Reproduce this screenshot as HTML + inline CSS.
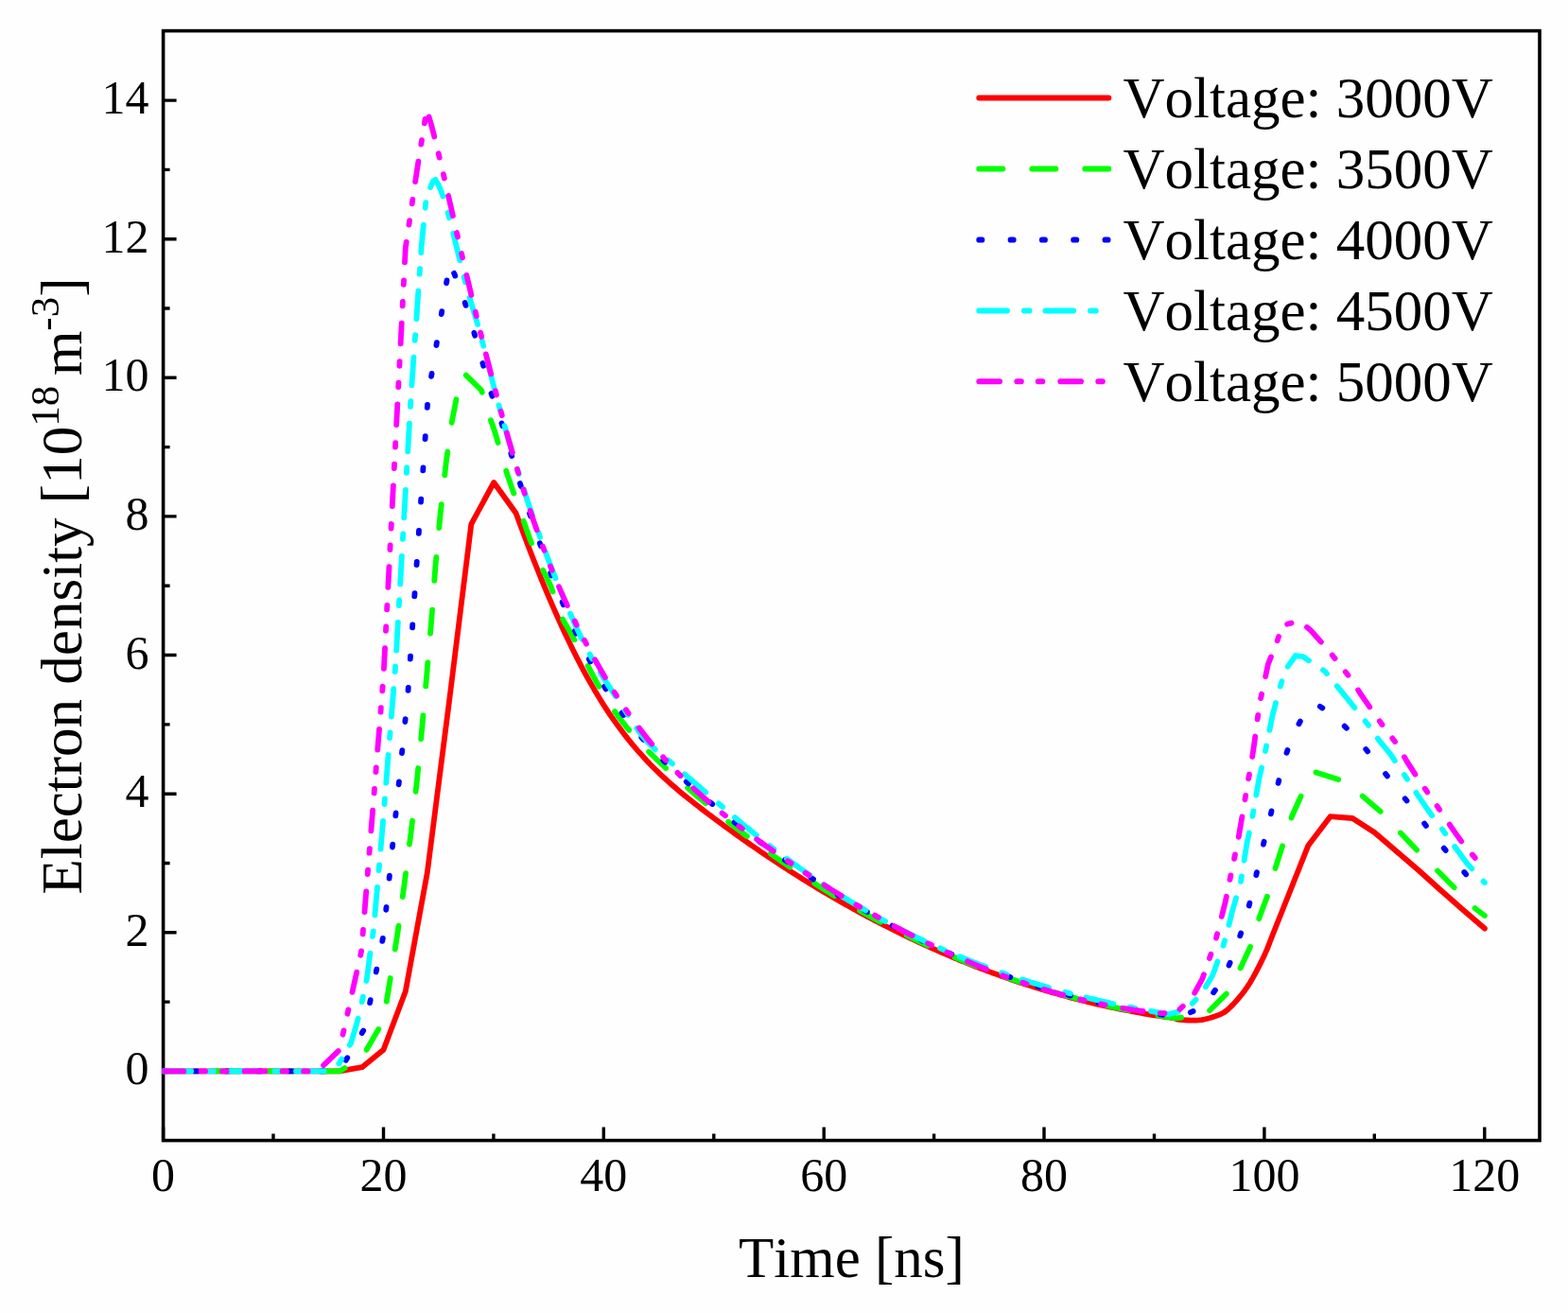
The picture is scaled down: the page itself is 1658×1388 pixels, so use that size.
<!DOCTYPE html>
<html><head><meta charset="utf-8"><title>Electron density vs time</title>
<style>html,body{margin:0;padding:0;background:#fefefe;}svg{display:block;}text{font-kerning:none;}</style>
</head><body>
<svg width="1658" height="1388" viewBox="0 0 1658 1388">
<rect x="0" y="0" width="1658" height="1388" fill="#fefefe"/>
<rect x="172.6" y="32.6" width="1455.4" height="1173.0" fill="none" stroke="#000" stroke-width="3.6"/>
<path d="M172.6,1205.6V1191.6M289.0,1205.6V1198.6M405.5,1205.6V1191.6M521.9,1205.6V1198.6M638.3,1205.6V1191.6M754.8,1205.6V1198.6M871.2,1205.6V1191.6M987.6,1205.6V1198.6M1104.0,1205.6V1191.6M1220.5,1205.6V1198.6M1336.9,1205.6V1191.6M1453.3,1205.6V1198.6M1569.8,1205.6V1191.6M172.6,1132.4H186.6M172.6,1059.1H179.6M172.6,985.8H186.6M172.6,912.5H179.6M172.6,839.2H186.6M172.6,765.9H179.6M172.6,692.5H186.6M172.6,619.2H179.6M172.6,545.9H186.6M172.6,472.6H179.6M172.6,399.3H186.6M172.6,326.0H179.6M172.6,252.7H186.6M172.6,179.4H179.6M172.6,106.1H186.6" stroke="#000" stroke-width="3.4" fill="none"/>
<defs><clipPath id="pc"><rect x="171.5" y="32.6" width="1456.5" height="1173.0"/></clipPath></defs>
<g clip-path="url(#pc)" fill="none" stroke-linejoin="round">
<polyline points="172.6,1132.4 358.9,1132.4 382.8,1128.2 405.5,1109.7 428.8,1048.0 451.8,922.5 475.3,739.0 498.3,554.1 522.2,510.0 545.6,542.5 548.6,550.7 551.6,558.8 554.6,566.8 557.6,574.7 560.6,582.5 563.6,590.2 566.6,597.8 569.6,605.2 572.6,612.6 575.6,619.9 578.6,627.1 581.6,634.1 584.6,641.1 587.6,647.9 590.6,654.6 593.6,661.2 596.6,667.7 599.6,674.1 602.6,680.3 605.6,686.5 608.6,692.5 611.6,698.4 614.6,704.1 617.6,709.8 620.6,715.3 623.6,720.7 626.6,725.9 629.6,731.1 632.6,736.0 635.6,740.9 638.6,745.7 641.6,750.3 644.6,754.8 647.6,759.2 650.6,763.4 653.6,767.6 656.6,771.6 659.6,775.6 662.6,779.4 665.6,783.2 668.6,786.8 671.6,790.4 674.6,793.8 677.6,797.2 680.6,800.5 683.6,803.8 686.6,806.9 689.6,810.0 692.6,813.0 695.6,815.9 698.6,818.8 701.6,821.6 704.6,824.4 707.6,827.1 710.6,829.7 713.6,832.3 716.6,834.9 719.6,837.4 722.6,839.9 725.6,842.3 728.6,844.7 731.6,847.1 734.6,849.5 737.6,851.8 740.6,854.1 743.6,856.4 746.6,858.7 749.6,861.0 752.6,863.2 755.6,865.5 758.6,867.7 761.6,869.9 764.6,872.1 767.6,874.3 770.6,876.5 773.6,878.7 776.6,880.9 779.6,883.0 782.6,885.1 785.6,887.3 788.6,889.4 791.6,891.5 794.6,893.6 797.6,895.7 800.6,897.7 803.6,899.8 806.6,901.8 809.6,903.9 812.6,905.9 815.6,907.9 818.6,909.9 821.6,911.9 824.6,913.8 827.6,915.8 830.6,917.7 833.6,919.7 836.6,921.6 839.6,923.5 842.6,925.4 845.6,927.3 848.6,929.2 851.6,931.0 854.6,932.9 857.6,934.7 860.6,936.6 863.6,938.4 866.6,940.2 869.6,942.0 872.6,943.8 875.6,945.5 878.6,947.3 881.6,949.0 884.6,950.8 887.6,952.5 890.6,954.2 893.6,955.9 896.6,957.6 899.6,959.3 902.6,960.9 905.6,962.6 908.6,964.2 911.6,965.9 914.6,967.5 917.6,969.1 920.6,970.7 923.6,972.3 926.6,973.8 929.6,975.4 932.6,976.9 935.6,978.5 938.6,980.0 941.6,981.5 944.6,983.0 947.6,984.5 950.6,986.0 953.6,987.5 956.6,988.9 959.6,990.4 962.6,991.8 965.6,993.2 968.6,994.6 971.6,996.0 974.6,997.4 977.6,998.8 980.6,1000.2 983.6,1001.5 986.6,1002.9 989.6,1004.2 992.6,1005.5 995.6,1006.8 998.6,1008.1 1001.6,1009.4 1004.6,1010.7 1007.6,1012.0 1010.6,1013.2 1013.6,1014.5 1016.6,1015.7 1019.6,1016.9 1022.6,1018.1 1025.6,1019.3 1028.6,1020.5 1031.6,1021.7 1034.6,1022.8 1037.6,1024.0 1040.6,1025.1 1043.6,1026.2 1046.6,1027.4 1049.6,1028.5 1052.6,1029.6 1055.6,1030.6 1058.6,1031.7 1061.6,1032.8 1064.6,1033.8 1067.6,1034.9 1070.6,1035.9 1073.6,1036.9 1076.6,1037.9 1079.6,1038.9 1082.6,1039.9 1085.6,1040.9 1088.6,1041.8 1091.6,1042.8 1094.6,1043.7 1097.6,1044.6 1100.6,1045.6 1103.6,1046.5 1106.6,1047.4 1109.6,1048.2 1112.6,1049.1 1115.6,1050.0 1118.6,1050.8 1121.6,1051.7 1124.6,1052.5 1127.6,1053.3 1130.6,1054.1 1133.6,1054.9 1136.6,1055.7 1139.6,1056.5 1142.6,1057.2 1145.6,1058.0 1148.6,1058.7 1151.6,1059.5 1154.6,1060.2 1157.6,1060.9 1160.6,1061.6 1163.6,1062.3 1166.6,1062.9 1169.6,1063.6 1172.6,1064.3 1175.6,1064.9 1178.6,1065.5 1181.6,1066.2 1184.6,1066.8 1187.6,1067.4 1190.6,1068.0 1193.6,1068.5 1196.6,1069.1 1199.6,1069.7 1202.6,1070.2 1205.6,1070.7 1208.6,1071.3 1211.6,1071.8 1214.6,1072.3 1217.6,1072.8 1220.6,1073.3 1223.6,1073.7 1226.6,1074.2 1229.6,1074.6 1232.6,1075.1 1235.6,1075.5 1238.6,1075.9 1241.6,1076.3 1243.8,1076.6 1243.8,1077.3 1246.8,1077.8 1249.8,1078.1 1252.8,1078.4 1255.8,1078.5 1258.8,1078.6 1261.8,1078.6 1264.8,1078.6 1267.8,1078.4 1270.8,1078.1 1273.8,1077.5 1276.8,1076.8 1279.8,1076.0 1282.8,1075.0 1285.8,1074.0 1288.8,1072.9 1291.8,1071.6 1294.8,1069.9 1297.8,1067.6 1300.8,1064.9 1303.8,1061.9 1306.8,1058.6 1309.8,1055.1 1312.8,1051.5 1315.8,1047.7 1318.8,1043.4 1321.8,1038.7 1324.8,1033.6 1327.8,1028.2 1330.8,1022.4 1333.8,1016.4 1336.8,1010.2 1339.8,1003.4 1342.8,995.8 1345.0,990.0 1383.2,894.1 1406.6,863.2 1430.1,865.0 1453.4,880.0 1476.7,900.0 1500.0,920.0 1523.3,941.0 1546.6,961.5 1569.9,981.5" stroke="#ff0000" stroke-width="5.8" stroke-linecap="round"/>
<polyline points="172.6,1132.4 358.9,1132.4 382.2,1119.0 405.5,1079.0 420.0,989.2 427.5,935.2 434.6,880.0 441.1,823.3 446.5,767.0 451.5,710.5 456.2,655.8 460.3,599.9 465.5,544.6 471.8,488.2 477.7,446.5 482.9,420.0 491.0,395.0 509.0,412.5 510.0,415.3 513.0,428.4 516.0,437.2 519.0,444.4 522.0,452.6 525.0,462.3 528.0,472.9 531.0,483.7 534.0,494.0 537.0,503.4 540.0,512.1 543.0,520.6 546.0,529.0 549.0,537.5 552.0,546.1 555.0,554.7 558.0,563.2 561.0,571.5 564.0,579.5 567.0,587.1 570.0,594.2 573.0,600.6 576.0,606.5 579.0,612.4 582.0,618.8 585.0,626.5 588.0,635.5 591.0,644.7 594.0,652.5 597.0,658.3 600.0,663.3 603.0,668.3 606.0,673.7 609.0,679.2 612.0,685.0 615.0,690.8 618.0,696.6 621.0,702.5 624.0,708.3 627.0,714.1 630.0,719.6 633.0,725.0 636.0,730.2 639.0,735.2 642.0,740.0 645.0,744.6 648.0,749.1 651.0,753.4 654.0,757.5 657.0,761.6 660.0,765.4 663.0,769.2 666.0,772.8 669.0,776.3 672.0,779.8 675.0,783.1 678.0,786.3 681.0,789.5 684.0,792.6 687.0,795.6 690.0,798.5 693.0,801.5 696.0,804.3 699.0,807.2 702.0,810.0 705.0,812.8 708.0,815.6 711.0,818.3 714.0,821.1 717.0,823.8 720.0,826.5 723.0,829.2 726.0,831.8 729.0,834.5 732.0,837.1 735.0,839.7 738.0,842.3 741.0,844.8 744.0,847.4 747.0,849.9 750.0,852.4 753.0,854.9 756.0,857.3 759.0,859.8 762.0,862.2 765.0,864.6 768.0,867.0 771.0,869.4 774.0,871.8 777.0,874.1 780.0,876.5 783.0,878.8 786.0,881.1 789.0,883.4 792.0,885.6 795.0,887.9 798.0,890.1 801.0,892.3 804.0,894.5 807.0,896.7 810.0,898.9 813.0,901.1 816.0,903.2 819.0,905.3 822.0,907.5 825.0,909.6 828.0,911.7 831.0,913.7 834.0,915.8 837.0,917.8 840.0,919.9 843.0,921.9 846.0,923.9 849.0,925.9 852.0,927.8 855.0,929.8 858.0,931.7 861.0,933.6 864.0,935.6 867.0,937.5 870.0,939.3 873.0,941.2 876.0,943.1 879.0,944.9 882.0,946.7 885.0,948.6 888.0,950.4 891.0,952.1 894.0,953.9 897.0,955.7 900.0,957.4 903.0,959.1 906.0,960.9 909.0,962.6 912.0,964.3 915.0,965.9 918.0,967.6 921.0,969.2 924.0,970.9 927.0,972.5 930.0,974.1 933.0,975.7 936.0,977.3 939.0,978.9 942.0,980.4 945.0,982.0 948.0,983.5 951.0,985.0 954.0,986.5 957.0,988.0 960.0,989.5 963.0,990.9 966.0,992.4 969.0,993.8 972.0,995.3 975.0,996.7 978.0,998.1 981.0,999.5 984.0,1000.8 987.0,1002.2 990.0,1003.5 993.0,1004.9 996.0,1006.2 999.0,1007.5 1002.0,1008.8 1005.0,1010.1 1008.0,1011.4 1011.0,1012.6 1014.0,1013.9 1017.0,1015.1 1020.0,1016.4 1023.0,1017.6 1026.0,1018.8 1029.0,1020.0 1032.0,1021.1 1035.0,1022.3 1038.0,1023.5 1041.0,1024.6 1044.0,1025.7 1047.0,1026.9 1050.0,1028.0 1053.0,1029.1 1056.0,1030.1 1059.0,1031.2 1062.0,1032.3 1065.0,1033.3 1068.0,1034.4 1071.0,1035.4 1074.0,1036.4 1077.0,1037.4 1080.0,1038.4 1083.0,1039.4 1086.0,1040.3 1089.0,1041.3 1092.0,1042.2 1095.0,1043.2 1098.0,1044.1 1101.0,1045.0 1104.0,1045.9 1107.0,1046.8 1110.0,1047.7 1113.0,1048.5 1116.0,1049.4 1119.0,1050.3 1122.0,1051.1 1125.0,1051.9 1128.0,1052.7 1131.0,1053.5 1134.0,1054.3 1137.0,1055.1 1140.0,1055.9 1143.0,1056.6 1146.0,1057.4 1149.0,1058.1 1152.0,1058.9 1155.0,1059.6 1158.0,1060.3 1161.0,1061.0 1164.0,1061.7 1167.0,1062.4 1170.0,1063.0 1173.0,1063.7 1176.0,1064.3 1179.0,1065.0 1182.0,1065.6 1185.0,1066.2 1188.0,1066.8 1191.0,1067.4 1194.0,1068.0 1197.0,1068.6 1200.0,1069.2 1203.0,1069.7 1206.0,1070.3 1209.0,1070.8 1212.0,1071.3 1215.0,1071.9 1218.0,1072.4 1221.0,1072.9 1224.0,1073.4 1227.0,1073.8 1230.0,1074.3 1233.0,1074.8 1236.0,1075.2 1239.0,1075.7 1242.0,1076.1 1243.8,1076.4 1267.0,1073.0 1278.6,1068.8 1297.5,1049.9 1311.9,1022.9 1322.7,999.5 1331.7,969.8 1340.8,945.4 1348.9,916.6 1357.0,891.4 1366.2,862.5 1375.9,841.1 1390.0,816.0 1416.8,824.6 1440.1,841.1 1459.6,857.7 1480.0,879.5 1498.4,898.9 1520.0,920.5 1538.4,938.9 1560.0,960.5 1569.9,968.0" stroke="#00ff00" stroke-width="5.8" stroke-dasharray="25 31" stroke-linecap="round"/>
<polyline points="172.6,1132.4 358.9,1132.4 385.7,1087.0 405.5,988.6 431.3,733.7 452.5,420.0 475.5,278.0 480.5,289.7 483.5,297.1 486.5,305.1 489.5,313.6 492.5,322.7 495.5,332.2 498.5,342.2 501.5,352.4 504.5,362.9 507.5,373.6 510.5,384.4 513.5,395.4 516.5,406.1 519.5,416.0 522.5,424.3 525.5,432.7 528.5,441.5 531.5,450.7 534.5,460.3 537.5,470.0 540.5,479.9 543.5,489.9 546.5,499.9 549.5,509.7 552.5,519.4 555.5,528.8 558.5,538.1 561.5,547.2 564.5,556.2 567.5,565.0 570.5,573.5 573.5,582.0 576.5,590.2 579.5,598.3 582.5,606.2 585.5,613.9 588.5,621.5 591.5,628.9 594.5,636.2 597.5,643.3 600.5,650.2 603.5,657.0 606.5,663.6 609.5,670.0 612.5,676.3 615.5,682.5 618.5,688.5 621.5,694.3 624.5,700.0 627.5,705.6 630.5,711.0 633.5,716.3 636.5,721.4 639.5,726.4 642.5,731.2 645.5,735.9 648.5,740.5 651.5,744.9 654.5,749.2 657.5,753.4 660.5,757.5 663.5,761.4 666.5,765.3 669.5,769.0 672.5,772.7 675.5,776.2 678.5,779.7 681.5,783.1 684.5,786.4 687.5,789.6 690.5,792.8 693.5,795.9 696.5,798.9 699.5,801.9 702.5,804.8 705.5,807.7 708.5,810.5 711.5,813.3 714.5,816.1 717.5,818.9 720.5,821.6 723.5,824.3 726.5,827.0 729.5,829.6 732.5,832.3 735.5,834.9 738.5,837.5 741.5,840.1 744.5,842.7 747.5,845.3 750.5,847.8 753.5,850.3 756.5,852.9 759.5,855.3 762.5,857.8 765.5,860.3 768.5,862.7 771.5,865.1 774.5,867.6 777.5,869.9 780.5,872.3 783.5,874.7 786.5,877.0 789.5,879.3 792.5,881.6 795.5,883.9 798.5,886.2 801.5,888.5 804.5,890.7 807.5,892.9 810.5,895.2 813.5,897.4 816.5,899.5 819.5,901.7 822.5,903.9 825.5,906.0 828.5,908.1 831.5,910.2 834.5,912.3 837.5,914.4 840.5,916.4 843.5,918.5 846.5,920.5 849.5,922.5 852.5,924.5 855.5,926.5 858.5,928.5 861.5,930.4 864.5,932.4 867.5,934.3 870.5,936.2 873.5,938.1 876.5,940.0 879.5,941.9 882.5,943.7 885.5,945.6 888.5,947.4 891.5,949.2 894.5,951.0 897.5,952.8 900.5,954.6 903.5,956.3 906.5,958.1 909.5,959.8 912.5,961.5 915.5,963.3 918.5,964.9 921.5,966.6 924.5,968.3 927.5,969.9 930.5,971.6 933.5,973.2 936.5,974.8 939.5,976.4 942.5,978.0 945.5,979.6 948.5,981.1 951.5,982.7 954.5,984.2 957.5,985.7 960.5,987.2 963.5,988.7 966.5,990.2 969.5,991.7 972.5,993.1 975.5,994.6 978.5,996.0 981.5,997.4 984.5,998.8 987.5,1000.2 990.5,1001.6 993.5,1003.0 996.5,1004.3 999.5,1005.6 1002.5,1007.0 1005.5,1008.3 1008.5,1009.6 1011.5,1010.9 1014.5,1012.1 1017.5,1013.4 1020.5,1014.7 1023.5,1015.9 1026.5,1017.1 1029.5,1018.3 1032.5,1019.5 1035.5,1020.7 1038.5,1021.9 1041.5,1023.1 1044.5,1024.2 1047.5,1025.4 1050.5,1026.5 1053.5,1027.6 1056.5,1028.7 1059.5,1029.8 1062.5,1030.9 1065.5,1031.9 1068.5,1033.0 1071.5,1034.0 1074.5,1035.1 1077.5,1036.1 1080.5,1037.1 1083.5,1038.1 1086.5,1039.1 1089.5,1040.0 1092.5,1041.0 1095.5,1041.9 1098.5,1042.9 1101.5,1043.8 1104.5,1044.7 1107.5,1045.6 1110.5,1046.5 1113.5,1047.4 1116.5,1048.2 1119.5,1049.1 1122.5,1049.9 1125.5,1050.8 1128.5,1051.6 1131.5,1052.4 1134.5,1053.2 1137.5,1054.0 1140.5,1054.8 1143.5,1055.5 1146.5,1056.3 1149.5,1057.0 1152.5,1057.7 1155.5,1058.5 1158.5,1059.2 1161.5,1059.9 1164.5,1060.6 1167.5,1061.2 1170.5,1061.9 1173.5,1062.5 1176.5,1063.2 1179.5,1063.8 1182.5,1064.4 1185.5,1065.0 1188.5,1065.6 1191.5,1066.2 1194.5,1066.8 1197.5,1067.4 1200.5,1067.9 1203.5,1068.5 1206.5,1069.0 1209.5,1069.5 1212.5,1070.1 1215.5,1070.6 1218.5,1071.1 1221.5,1071.5 1224.5,1072.0 1227.5,1072.5 1230.5,1072.9 1233.5,1073.4 1236.5,1073.8 1239.5,1074.2 1242.5,1074.6 1245.5,1075.0 1246.2,1075.1 1271.4,1065.2 1293.9,1034.6 1306.5,1003.0 1317.3,971.6 1325.4,938.2 1332.6,905.8 1340.8,873.0 1348.6,840.2 1356.4,808.0 1366.2,778.9 1381.7,749.7 1393.0,745.0 1409.0,755.5 1434.3,779.8 1455.7,806.1 1476.8,833.0 1497.3,858.9 1517.8,885.9 1539.5,911.9 1561.1,936.8 1569.9,946.0" stroke="#0000ff" stroke-width="5.8" stroke-dasharray="3 30.3" stroke-linecap="round"/>
<polyline points="172.6,1132.4 345.0,1132.4 358.6,1124.0 371.3,1102.2 380.0,1072.2 384.0,1053.2 388.0,1034.2 392.0,1003.0 395.1,982.0 404.3,877.3 418.4,700.7 434.6,418.4 445.9,257.8 450.9,207.4 458.0,191.5 460.5,189.9 463.5,195.2 466.5,202.3 469.5,211.0 472.5,220.9 475.5,231.9 478.5,243.6 481.5,255.7 484.5,268.1 487.5,280.4 490.5,292.4 493.5,303.9 496.5,314.5 499.5,324.5 502.5,334.4 505.5,344.6 508.5,355.4 511.5,366.8 514.5,378.5 517.5,390.3 520.5,402.1 523.5,413.6 526.5,424.8 529.5,435.9 532.5,446.6 535.5,457.2 538.5,467.6 541.5,477.7 544.5,487.7 547.5,497.4 550.5,506.9 553.5,516.3 556.5,525.5 559.5,534.5 562.5,543.4 565.5,552.1 568.5,560.6 571.5,569.0 574.5,577.3 577.5,585.4 580.5,593.4 583.5,601.2 586.5,609.0 589.5,616.6 592.5,624.0 595.5,631.3 598.5,638.4 601.5,645.4 604.5,652.2 607.5,658.9 610.5,665.4 613.5,671.7 616.5,677.8 619.5,683.7 622.5,689.5 625.5,695.1 628.5,700.5 631.5,705.6 634.5,710.6 637.5,715.5 640.5,720.2 643.5,724.8 646.5,729.3 649.5,733.8 652.5,738.3 655.5,742.8 658.5,747.3 661.5,752.0 664.5,756.6 667.5,761.3 670.5,765.9 673.5,770.3 676.5,774.5 679.5,778.4 682.5,782.0 685.5,785.2 688.5,788.2 691.5,791.0 694.5,793.6 697.5,796.1 700.5,798.6 703.5,801.1 706.5,803.6 709.5,806.1 712.5,808.6 715.5,811.2 718.5,813.7 721.5,816.3 724.5,818.9 727.5,821.4 730.5,824.0 733.5,826.6 736.5,829.2 739.5,831.8 742.5,834.4 745.5,837.0 748.5,839.6 751.5,842.2 754.5,844.8 757.5,847.4 760.5,850.0 763.5,852.5 766.5,855.1 769.5,857.7 772.5,860.2 775.5,862.8 778.5,865.3 781.5,867.9 784.5,870.4 787.5,872.9 790.5,875.3 793.5,877.8 796.5,880.3 799.5,882.7 802.5,885.1 805.5,887.5 808.5,889.9 811.5,892.2 814.5,894.5 817.5,896.9 820.5,899.2 823.5,901.4 826.5,903.7 829.5,905.9 832.5,908.1 835.5,910.3 838.5,912.5 841.5,914.7 844.5,916.8 847.5,919.0 850.5,921.1 853.5,923.2 856.5,925.2 859.5,927.3 862.5,929.3 865.5,931.3 868.5,933.3 871.5,935.3 874.5,937.3 877.5,939.2 880.5,941.2 883.5,943.1 886.5,945.0 889.5,946.9 892.5,948.7 895.5,950.6 898.5,952.4 901.5,954.2 904.5,956.0 907.5,957.8 910.5,959.6 913.5,961.3 916.5,963.0 919.5,964.7 922.5,966.4 925.5,968.1 928.5,969.8 931.5,971.4 934.5,973.1 937.5,974.7 940.5,976.3 943.5,977.9 946.5,979.4 949.5,981.0 952.5,982.5 955.5,984.1 958.5,985.6 961.5,987.1 964.5,988.6 967.5,990.0 970.5,991.5 973.5,992.9 976.5,994.3 979.5,995.7 982.5,997.1 985.5,998.5 988.5,999.9 991.5,1001.2 994.5,1002.6 997.5,1003.9 1000.5,1005.2 1003.5,1006.5 1006.5,1007.8 1009.5,1009.0 1012.5,1010.3 1015.5,1011.5 1018.5,1012.8 1021.5,1014.0 1024.5,1015.2 1027.5,1016.4 1030.5,1017.5 1033.5,1018.7 1036.5,1019.9 1039.5,1021.0 1042.5,1022.1 1045.5,1023.2 1048.5,1024.3 1051.5,1025.4 1054.5,1026.5 1057.5,1027.6 1060.5,1028.6 1063.5,1029.7 1066.5,1030.7 1069.5,1031.7 1072.5,1032.7 1075.5,1033.7 1078.5,1034.7 1081.5,1035.6 1084.5,1036.6 1087.5,1037.5 1090.5,1038.5 1093.5,1039.4 1096.5,1040.3 1099.5,1041.2 1102.5,1042.1 1105.5,1043.0 1108.5,1043.9 1111.5,1044.7 1114.5,1045.6 1117.5,1046.4 1120.5,1047.2 1123.5,1048.0 1126.5,1048.8 1129.5,1049.6 1132.5,1050.4 1135.5,1051.2 1138.5,1052.0 1141.5,1052.7 1144.5,1053.5 1147.5,1054.2 1150.5,1055.0 1153.5,1055.7 1156.5,1056.4 1159.5,1057.1 1162.5,1057.8 1165.5,1058.5 1168.5,1059.1 1171.5,1059.8 1174.5,1060.5 1177.5,1061.1 1180.5,1061.7 1183.5,1062.4 1186.5,1063.0 1189.5,1063.6 1192.5,1064.2 1195.5,1064.8 1198.5,1065.4 1201.5,1066.0 1204.5,1066.6 1207.5,1067.1 1210.5,1067.7 1213.5,1068.2 1216.5,1068.8 1219.5,1069.3 1222.5,1069.8 1225.5,1070.4 1228.5,1070.9 1231.5,1071.4 1234.5,1071.9 1236.0,1072.1 1255.2,1067.0 1271.4,1049.0 1282.2,1031.0 1293.0,1001.3 1298.4,982.4 1302.9,963.5 1311.9,932.8 1318.2,893.2 1324.3,863.5 1331.1,824.6 1337.9,794.4 1345.7,755.5 1353.5,726.3 1359.3,708.0 1370.0,693.0 1377.8,694.2 1401.2,709.8 1413.8,725.3 1426.5,740.9 1445.9,765.2 1457.6,781.8 1470.3,797.3 1487.6,823.2 1498.4,839.5 1510.3,856.8 1528.6,881.6 1539.5,896.8 1551.4,913.0 1569.9,933.0" stroke="#00ffff" stroke-width="5.8" stroke-dasharray="29.6 18 5.6 17" stroke-linecap="round"/>
<polyline points="172.6,1132.4 335.6,1132.4 358.9,1110.0 382.2,1005.0 405.5,715.0 428.8,262.0 440.8,180.8 451.2,115.5 456.0,131.7 459.0,143.4 462.0,155.4 465.0,167.8 468.0,180.5 471.0,193.4 474.0,206.5 477.0,219.7 480.0,232.9 483.0,246.1 486.0,259.2 489.0,272.2 492.0,285.0 495.0,297.7 498.0,310.3 501.0,322.7 504.0,335.0 507.0,347.2 510.0,359.3 513.0,371.2 516.0,383.0 519.0,394.7 522.0,406.2 525.0,417.7 528.0,428.9 531.0,440.0 534.0,451.0 537.0,461.7 540.0,472.3 543.0,482.8 546.0,493.0 549.0,503.0 552.0,512.8 555.0,522.4 558.0,531.8 561.0,541.0 564.0,549.9 567.0,558.5 570.0,567.0 573.0,575.2 576.0,583.2 579.0,591.0 582.0,598.6 585.0,606.0 588.0,613.2 591.0,620.3 594.0,627.2 597.0,633.9 600.0,640.4 603.0,646.8 606.0,653.1 609.0,659.2 612.0,665.3 615.0,671.2 618.0,676.9 621.0,682.6 624.0,688.2 627.0,693.7 630.0,699.0 633.0,704.3 636.0,709.5 639.0,714.6 642.0,719.5 645.0,724.4 648.0,729.2 651.0,733.9 654.0,738.5 657.0,743.0 660.0,747.5 663.0,751.8 666.0,756.1 669.0,760.3 672.0,764.4 675.0,768.4 678.0,772.4 681.0,776.2 684.0,780.1 687.0,783.8 690.0,787.4 693.0,791.0 696.0,794.6 699.0,798.0 702.0,801.4 705.0,804.7 708.0,808.0 711.0,811.2 714.0,814.4 717.0,817.5 720.0,820.5 723.0,823.5 726.0,826.4 729.0,829.3 732.0,832.2 735.0,835.0 738.0,837.7 741.0,840.4 744.0,843.1 747.0,845.7 750.0,848.3 753.0,850.8 756.0,853.4 759.0,855.8 762.0,858.3 765.0,860.7 768.0,863.1 771.0,865.4 774.0,867.8 777.0,870.1 780.0,872.4 783.0,874.6 786.0,876.9 789.0,879.1 792.0,881.3 795.0,883.5 798.0,885.7 801.0,887.8 804.0,890.0 807.0,892.1 810.0,894.3 813.0,896.4 816.0,898.5 819.0,900.6 822.0,902.7 825.0,904.8 828.0,906.9 831.0,908.9 834.0,911.0 837.0,913.0 840.0,915.0 843.0,917.1 846.0,919.1 849.0,921.1 852.0,923.0 855.0,925.0 858.0,927.0 861.0,928.9 864.0,930.9 867.0,932.8 870.0,934.7 873.0,936.6 876.0,938.5 879.0,940.4 882.0,942.2 885.0,944.1 888.0,945.9 891.0,947.8 894.0,949.6 897.0,951.4 900.0,953.2 903.0,955.0 906.0,956.8 909.0,958.5 912.0,960.3 915.0,962.0 918.0,963.7 921.0,965.4 924.0,967.1 927.0,968.8 930.0,970.5 933.0,972.2 936.0,973.8 939.0,975.5 942.0,977.1 945.0,978.7 948.0,980.3 951.0,981.9 954.0,983.5 957.0,985.1 960.0,986.6 963.0,988.2 966.0,989.7 969.0,991.2 972.0,992.7 975.0,994.2 978.0,995.7 981.0,997.2 984.0,998.6 987.0,1000.1 990.0,1001.5 993.0,1002.9 996.0,1004.3 999.0,1005.7 1002.0,1007.1 1005.0,1008.4 1008.0,1009.8 1011.0,1011.1 1014.0,1012.4 1017.0,1013.8 1020.0,1015.1 1023.0,1016.3 1026.0,1017.6 1029.0,1018.9 1032.0,1020.1 1035.0,1021.4 1038.0,1022.6 1041.0,1023.8 1044.0,1025.0 1047.0,1026.2 1050.0,1027.3 1053.0,1028.5 1056.0,1029.6 1059.0,1030.7 1062.0,1031.9 1065.0,1033.0 1068.0,1034.0 1071.0,1035.1 1074.0,1036.2 1077.0,1037.2 1080.0,1038.2 1083.0,1039.3 1086.0,1040.3 1089.0,1041.2 1092.0,1042.2 1095.0,1043.2 1098.0,1044.1 1101.0,1045.1 1104.0,1046.0 1107.0,1046.9 1110.0,1047.8 1113.0,1048.7 1116.0,1049.5 1119.0,1050.4 1122.0,1051.2 1125.0,1052.0 1128.0,1052.8 1131.0,1053.6 1134.0,1054.4 1137.0,1055.2 1140.0,1055.9 1143.0,1056.6 1146.0,1057.4 1149.0,1058.1 1152.0,1058.7 1155.0,1059.4 1158.0,1060.1 1161.0,1060.7 1164.0,1061.4 1167.0,1062.0 1170.0,1062.6 1173.0,1063.2 1176.0,1063.7 1179.0,1064.3 1182.0,1064.8 1185.0,1065.4 1188.0,1065.9 1191.0,1066.4 1194.0,1066.9 1197.0,1067.3 1200.0,1067.8 1203.0,1068.2 1206.0,1068.6 1209.0,1069.0 1212.0,1069.4 1215.0,1069.8 1218.0,1070.2 1221.0,1070.5 1224.0,1070.8 1225.2,1071.0 1242.6,1071.5 1260.6,1054.4 1271.4,1034.6 1278.6,1013.9 1284.9,995.9 1295.7,953.5 1300.2,931.0 1309.2,887.8 1315.5,851.0 1319.5,826.5 1323.4,805.1 1326.3,785.7 1329.2,763.3 1332.1,742.9 1337.0,720.5 1340.9,702.0 1349.6,680.6 1356.0,661.0 1374.0,656.5 1385.6,666.0 1401.2,683.5 1414.8,700.0 1428.4,717.6 1439.1,734.1 1451.8,752.6 1464.4,770.1 1477.8,787.6 1487.6,804.9 1499.5,823.2 1511.4,840.5 1524.3,858.9 1535.1,875.1 1548.1,893.5 1562.2,909.7 1569.9,920.5" stroke="#ff00ff" stroke-width="5.8" stroke-dasharray="21.7 18.3 4.5 18 4.5 19" stroke-linecap="round"/>
</g>
<g font-family="Liberation Serif, Times New Roman, serif" font-size="50" fill="#000">
<text x="172.6" y="1258.5" text-anchor="middle">0</text>
<text x="405.5" y="1258.5" text-anchor="middle">20</text>
<text x="638.3" y="1258.5" text-anchor="middle">40</text>
<text x="871.2" y="1258.5" text-anchor="middle">60</text>
<text x="1104.0" y="1258.5" text-anchor="middle">80</text>
<text x="1336.9" y="1258.5" text-anchor="middle">100</text>
<text x="1569.8" y="1258.5" text-anchor="middle">120</text>
<text x="157.5" y="1146.4" text-anchor="end">0</text>
<text x="157.5" y="999.8" text-anchor="end">2</text>
<text x="157.5" y="853.2" text-anchor="end">4</text>
<text x="157.5" y="706.5" text-anchor="end">6</text>
<text x="157.5" y="559.9" text-anchor="end">8</text>
<text x="157.5" y="413.3" text-anchor="end">10</text>
<text x="157.5" y="266.7" text-anchor="end">12</text>
<text x="157.5" y="120.1" text-anchor="end">14</text>
</g>
<g font-family="Liberation Serif, Times New Roman, serif" font-size="61" fill="#000">
<text x="900.5" y="1350.3" text-anchor="middle">Time [ns]</text>
<text transform="translate(85.5,619.5) rotate(-90)" text-anchor="middle">Electron density [10<tspan font-size="43" dy="-24">18 </tspan><tspan dy="24">m</tspan><tspan font-size="43" dy="-24">-3</tspan><tspan dy="24">]</tspan></text>
</g>
<g fill="none" stroke-width="6" stroke-linecap="round">
<line x1="1035.3" y1="103.6" x2="1172.3" y2="103.6" stroke="#ff0000"/>
<line x1="1035.3" y1="178.4" x2="1172.3" y2="178.4" stroke="#00ff00" stroke-dasharray="25 31"/>
<line x1="1035.3" y1="253.6" x2="1172.3" y2="253.6" stroke="#0000ff" stroke-dasharray="3 30.3"/>
<line x1="1035.3" y1="328.4" x2="1172.3" y2="328.4" stroke="#00ffff" stroke-dasharray="29.6 18 5.6 17"/>
<line x1="1035.3" y1="403.3" x2="1172.3" y2="403.3" stroke="#ff00ff" stroke-dasharray="21.7 18.3 4.5 18 4.5 19"/>
</g>
<g font-family="Liberation Serif, Times New Roman, serif" font-size="61" fill="#000">
<text x="1187.5" y="124.1">Voltage: 3000V</text>
<text x="1187.5" y="198.9">Voltage: 3500V</text>
<text x="1187.5" y="274.1">Voltage: 4000V</text>
<text x="1187.5" y="348.9">Voltage: 4500V</text>
<text x="1187.5" y="423.8">Voltage: 5000V</text>
</g>
</svg>
</body></html>
